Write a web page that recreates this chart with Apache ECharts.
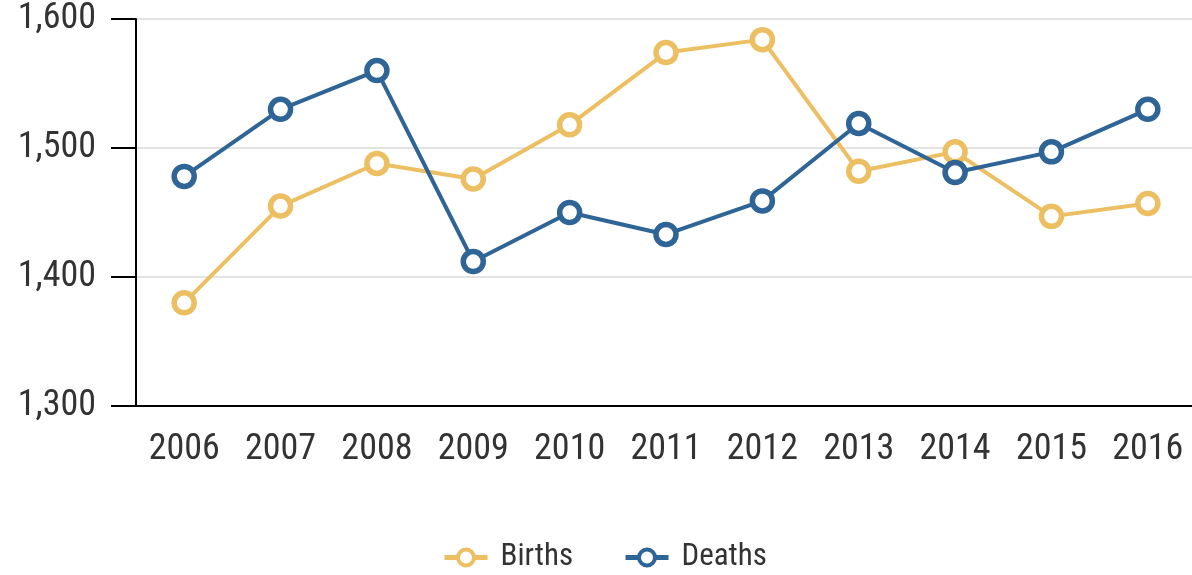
<!DOCTYPE html>
<html><head><meta charset="utf-8">
<script src="https://cdn.jsdelivr.net/npm/echarts@6/dist/echarts.min.js"></script>
<style>html,body{margin:0;padding:0;background:#fff}#c{width:1192px;height:575px}</style>
</head><body><div id="c"></div>
<script>
const years = ['2006','2007','2008','2009','2010','2011','2012','2013','2014','2015','2016'];
const births = [1380, 1455, 1488, 1476, 1518, 1574, 1584, 1482, 1497, 1447, 1457];
const deaths = [1478, 1530, 1560, 1412, 1450, 1433, 1459, 1519, 1481, 1497, 1530];
const FONT = '"Roboto Condensed", "Liberation Sans Narrow", "DejaVu Sans Condensed", Roboto, sans-serif';
const chart = echarts.init(document.getElementById('c'));
function ser(name, data, color){
  return {name, type:'line', data, symbol:'circle', symbolSize:20,
    lineStyle:{color, width:4}, itemStyle:{color:'#fff', borderColor:color, borderWidth:5.5},
    emphasis:{disabled:true}};
}
chart.setOption({
  animation:false,
  textStyle:{fontFamily:FONT},
  grid:{left:136, width:1060, top:19, bottom:169, containLabel:false, outerBoundsMode:'none'},
  xAxis:{type:'category', data:years, boundaryGap:true,
    axisLine:{lineStyle:{color:'#000', width:2}},
    axisTick:{alignWithLabel:true, length:24, lineStyle:{color:'#000', width:2}},
    axisLabel:{color:'#333', fontSize:36, fontFamily:FONT, margin:26}},
  yAxis:{type:'value', min:1300, max:1600, interval:100,
    axisLine:{show:true, lineStyle:{color:'#000', width:2}},
    axisTick:{show:true, length:25, lineStyle:{color:'#000', width:2}},
    splitLine:{lineStyle:{color:'#e3e3e3', width:2}},
    axisLabel:{color:'#333', fontSize:36, fontFamily:FONT, margin:40,
      formatter:v=>v.toLocaleString('en-US')}},
  legend:{top:537, left:437, itemWidth:43, itemHeight:20, itemGap:50,
    itemStyle:{borderWidth:4},
    lineStyle:{width:5},
    textStyle:{fontSize:31, color:'#333', fontFamily:FONT, padding:[0,0,0,8]},
    data:['Births','Deaths']},
  series:[ser('Births', births, '#EDBF63'), ser('Deaths', deaths, '#2E6496')]
});
</script></body></html>
